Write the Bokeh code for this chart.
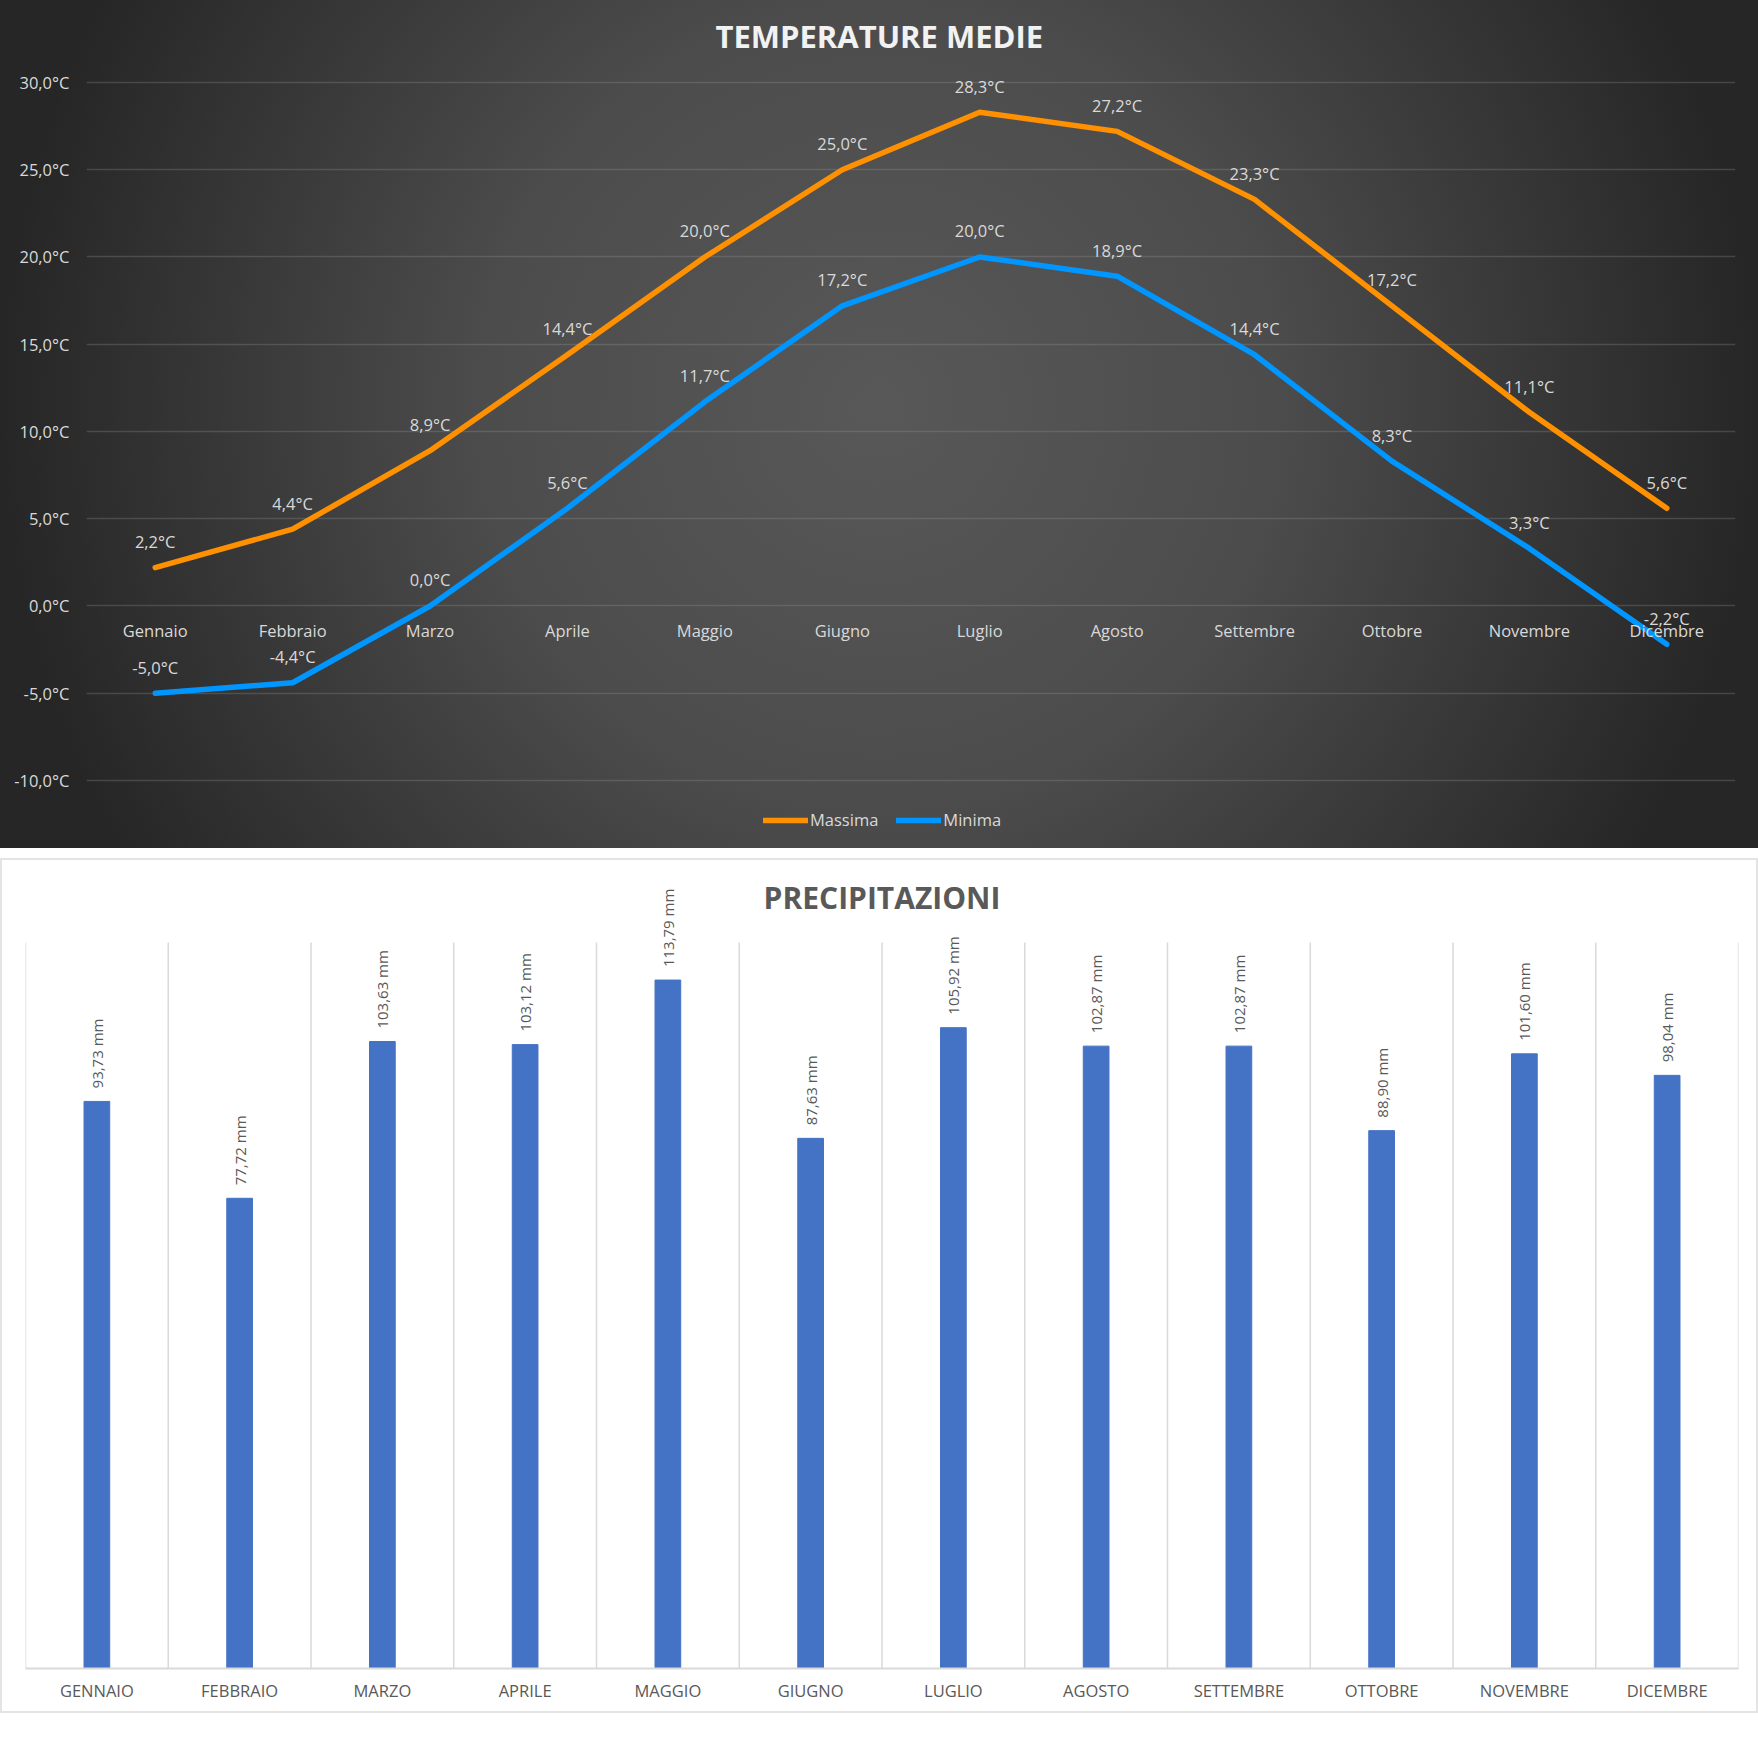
from bokeh.plotting import figure
from bokeh.layouts import column, row
from bokeh.models import (FixedTicker, Range1d, Legend, LegendItem, Spacer, ColumnDataSource, Label)
from bokeh.core.properties import value
from bokeh.embed import file_html
from bokeh.resources import INLINE
import math

# ---------------- data ----------------
months = ["Gennaio", "Febbraio", "Marzo", "Aprile", "Maggio", "Giugno",
          "Luglio", "Agosto", "Settembre", "Ottobre", "Novembre", "Dicembre"]
months_upper = ["GENNAIO", "FEBBRAIO", "MARZO", "APRILE", "MAGGIO", "GIUGNO",
                "LUGLIO", "AGOSTO", "SETTEMBRE", "OTTOBRE", "NOVEMBRE", "DICEMBRE"]
t_max = [2.2, 4.4, 8.9, 14.4, 20.0, 25.0, 28.3, 27.2, 23.3, 17.2, 11.1, 5.6]
t_min = [-5.0, -4.4, 0.0, 5.6, 11.7, 17.2, 20.0, 18.9, 14.4, 8.3, 3.3, -2.2]
precip = [93.73, 77.72, 103.63, 103.12, 113.79, 87.63, 105.92, 102.87, 102.87, 88.90, 101.60, 98.04]
y_ticks = [-10, -5, 0, 5, 10, 15, 20, 25, 30]
y_tick_labels = ["-10,0°C", "-5,0°C", "0,0°C", "5,0°C", "10,0°C", "15,0°C", "20,0°C", "25,0°C", "30,0°C"]
precip_axis_max = 120

FONT = "Open Sans"
ORANGE = "#FF9000"
BLUE = "#0096FF"
LIGHT = "#d9d9d9"
GREY = "#595959"

def fmt_temp(v):
    return ("%.1f" % v).replace(".", ",") + "°C"

def fmt_mm(v):
    return ("%.2f" % v).replace(".", ",") + " mm"

# ---------------- temperature chart ----------------
p1 = figure(width=1758, height=848, x_range=months, y_range=Range1d(-13.44, 31.49),
            output_backend="svg", toolbar_location=None,
            min_border_left=86, min_border_right=23, min_border_top=56, min_border_bottom=8)
p1.background_fill_color = None
p1.border_fill_color = None
p1.outline_line_color = None
p1.styles = {"background-image":
             "radial-gradient(circle farthest-side at 50% 48%, #585858 0%, #4c4c4c 45%, #262626 100%)",
             "background-color": "#262626"}

p1.title.text = "TEMPERATURE MEDIE"
p1.title.align = "left"
p1.title.offset = 629
p1.title.text_font = FONT
p1.title.text_font_size = "31px"
p1.title.text_font_style = "bold"
p1.title.text_color = "#f2f2f2"
p1.title.standoff = 0

p1.yaxis.ticker = FixedTicker(ticks=y_ticks)
p1.yaxis.major_label_overrides = {t: l for t, l in zip(y_ticks, y_tick_labels)}
p1.yaxis.axis_line_color = None
p1.yaxis.major_tick_line_color = None
p1.yaxis.minor_tick_line_color = None
p1.yaxis.major_label_standoff = 11
p1.yaxis.major_label_text_color = LIGHT
p1.yaxis.major_label_text_font = FONT
p1.yaxis.major_label_text_font_size = "16.5px"

p1.xaxis.fixed_location = 0
p1.xaxis.axis_line_color = None
p1.xaxis.major_tick_line_color = None
p1.xaxis.major_label_standoff = 7
p1.xaxis.major_label_text_color = LIGHT
p1.xaxis.major_label_text_font = FONT
p1.xaxis.major_label_text_font_size = "16.5px"

p1.xgrid.grid_line_color = None
p1.ygrid.ticker = FixedTicker(ticks=y_ticks)
p1.ygrid.grid_line_color = "#9a9a9a"
p1.ygrid.grid_line_alpha = 0.28
p1.ygrid.grid_line_width = 1.5

r_max = p1.line(months, t_max, line_color=ORANGE, line_width=5.5, line_join="round", line_cap="round")
r_min = p1.line(months, t_min, line_color=BLUE, line_width=5.5, line_join="round", line_cap="round")

src_lab = ColumnDataSource(dict(x=months + months, y=t_max + t_min,
                                t=[fmt_temp(v) for v in t_max] + [fmt_temp(v) for v in t_min]))
p1.text(x="x", y="y", text="t", source=src_lab, y_offset=-26,
        text_align="center", text_baseline="middle", text_color=LIGHT,
        text_font=value(FONT), text_font_size="16.5px")

legend = Legend(items=[LegendItem(label="Massima", renderers=[r_max]),
                       LegendItem(label="Minima", renderers=[r_min])],
                orientation="horizontal", location=(677, 9),
                background_fill_alpha=0, border_line_alpha=0,
                label_text_color=LIGHT, label_text_font=FONT, label_text_font_size="16.5px",
                glyph_width=45, glyph_height=20, label_height=20, label_standoff=2,
                spacing=18, padding=0, margin=0)
p1.add_layout(legend, "center")

# ---------------- precipitation chart ----------------
# plot area (0..precip_axis_max) is 726 px tall; the frame reaches up to the top of the
# chart so that the rotated value labels above the tallest bars are not clipped
P2_H, P2_BOTTOM = 855, 45
frame_h = P2_H - P2_BOTTOM
p2 = figure(width=1758, height=P2_H, x_range=months_upper,
            y_range=Range1d(0, precip_axis_max * frame_h / 726.0),
            output_backend="svg", toolbar_location=None, y_axis_location=None,
            min_border_left=25, min_border_right=20, min_border_top=0, min_border_bottom=P2_BOTTOM)
p2.background_fill_color = None
p2.border_fill_color = None
p2.outline_line_color = None
p2.styles = {"background-color": "white", "box-shadow": "inset 0 0 0 2px #e4e4e4"}

p2.add_layout(Label(x=(1758 - 25 - 20) / 2.0, y=frame_h - 39, x_units="screen", y_units="screen",
                    text="PRECIPITAZIONI", text_align="center", text_baseline="middle",
                    text_font=FONT, text_font_size="30px", text_font_style="bold",
                    text_color=GREY))

p2.ygrid.grid_line_color = None
p2.xgrid.grid_line_color = None
# vertical separators between categories (category boundaries 0..12), up to the axis max
bounds = list(range(len(months_upper) + 1))
p2.segment(x0=bounds, y0=[0] * len(bounds), x1=bounds, y1=[precip_axis_max] * len(bounds),
           line_color="#d9d9d9", line_width=1.5)

p2.xaxis.axis_line_color = "#d9d9d9"
p2.xaxis.axis_line_width = 2
p2.xaxis.major_tick_line_color = None
p2.xaxis.major_label_standoff = 4
p2.xaxis.major_label_text_color = GREY
p2.xaxis.major_label_text_font = FONT
p2.xaxis.major_label_text_font_size = "16.5px"

p2.vbar(x=months_upper, top=precip, width=0.18, color="#4472C4")
src_p = ColumnDataSource(dict(x=months_upper, y=precip, t=[fmt_mm(v) for v in precip]))
p2.text(x="x", y="y", text="t", source=src_p, angle=math.pi / 2, y_offset=-13,
        text_align="left", text_baseline="middle", text_color=GREY,
        text_font=value(FONT), text_font_size="15px")

layout = column(row(p1), Spacer(height=10), row(p2))
open("out.html", "w").write(file_html(layout, INLINE))
